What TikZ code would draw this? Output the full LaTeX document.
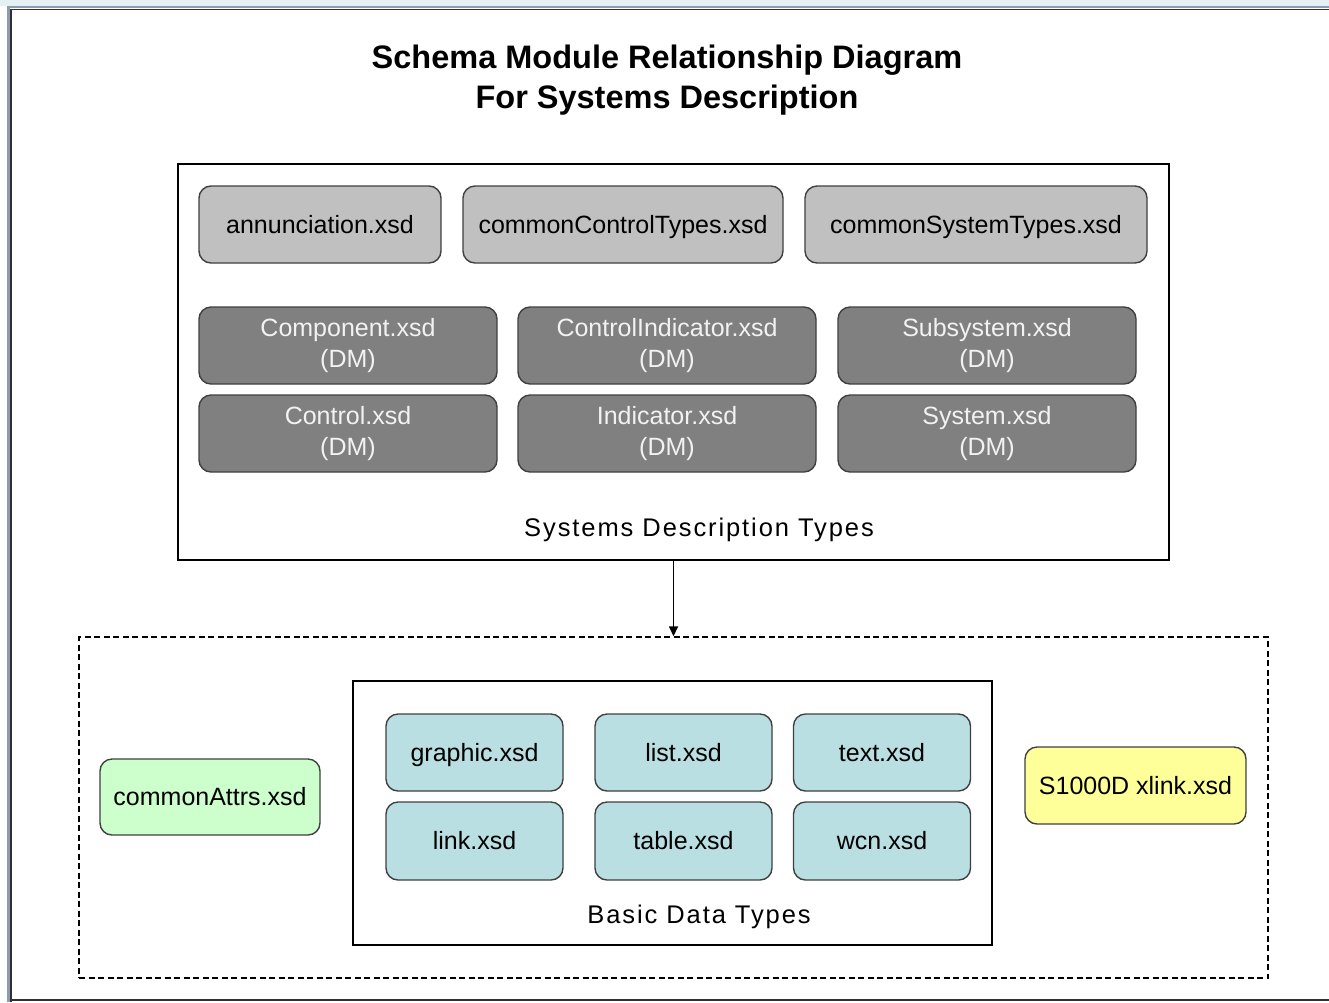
\documentclass[tikz,border=0pt]{standalone}
\usepackage{fontspec}
\setmainfont{Liberation Sans}
\newfontfamily\spacedfont[LetterSpace=7.5]{Liberation Sans}
\usetikzlibrary{arrows.meta}

\definecolor{framedark}{HTML}{303030}
\definecolor{frameblue}{HTML}{8C9AB4}
\definecolor{chrome}{HTML}{E4F0F4}
\definecolor{boxline}{HTML}{404040}
\definecolor{lightgray}{HTML}{C0C0C0}
\definecolor{darkgray}{HTML}{808080}
\definecolor{tealfill}{HTML}{B9DFE3}
\definecolor{greenfill}{HTML}{CCFFCC}
\definecolor{yellowfill}{HTML}{FFFF99}

\tikzset{
  module/.style={draw=boxline, line width=1.4pt, rounded corners=12pt,
    inner sep=0pt, align=center, font=\fontsize{25}{31}\selectfont},
  oneline/.style={text height=20pt, text depth=3pt},
  typebox/.style={module, oneline, fill=lightgray, text=black, minimum height=77pt},
  dmbox/.style={module, fill=darkgray, text=white!95!black,
    minimum width=298pt, minimum height=77pt},
  basicbox/.style={module, oneline, fill=tealfill, text=black, minimum width=177pt},
  container/.style={draw=black, line width=1.3pt, inner sep=0pt},
  groupbox/.style={draw=black, line width=1.4pt, dash pattern=on 6pt off 3.5pt, inner sep=0pt},
  grouplabel/.style={inner sep=0pt, font=\spacedfont\fontsize{25.5}{30}\selectfont},
  link/.style={draw=black, line width=1.4pt, -{Triangle[length=10pt,width=9pt]}}
}

\begin{document}
\begin{tikzpicture}[x=1pt, y=-1pt]
  \useasboundingbox (0,0) rectangle (1329,1002);
  \fill[white] (0,0) rectangle (1329,1002);

  % window frame
  \fill[chrome] (0,0) rectangle (1329,6);
  \draw[frameblue, line width=2.5pt] (8.5,1002) -- (8.5,7) -- (1329,7);
  \draw[framedark, line width=1.8pt] (11,1002) -- (11,9.5) -- (1329,9.5);
  \draw[framedark, line width=1.8pt] (11,1000) -- (1329,1000);

  % title
  \node[align=center, inner sep=0pt, font=\bfseries\fontsize{32.5}{40}\selectfont]
    (title) at (667,80) {Schema Module Relationship Diagram\\For Systems Description};

  % systems description types
  \node[container, minimum width=991pt, minimum height=396pt] (sdt) at (673.5,362) {};
  \node[typebox, minimum width=242pt] (ann) at (320,224.5) {annunciation.xsd};
  \node[typebox, minimum width=320pt] (cct) at (623,224.5) {commonControlTypes.xsd};
  \node[typebox, minimum width=342pt] (cst) at (976,224.5) {commonSystemTypes.xsd};

  \node[dmbox] (comp)    at (348,345.5) {Component.xsd\\(DM)};
  \node[dmbox] (ctrlind) at (667,345.5) {ControlIndicator.xsd\\(DM)};
  \node[dmbox] (subsys)  at (987,345.5) {Subsystem.xsd\\(DM)};
  \node[dmbox] (ctrl)    at (348,433.5) {Control.xsd\\(DM)};
  \node[dmbox] (ind)     at (667,433.5) {Indicator.xsd\\(DM)};
  \node[dmbox] (sys)     at (987,433.5) {System.xsd\\(DM)};

  \node[grouplabel] (sdtlabel) at (699,530) {Systems Description Types};

  % shared schemas
  \node[groupbox, minimum width=1189pt, minimum height=341pt] (shared) at (673.5,807.5) {};
  \node[container, minimum width=639pt, minimum height=264pt] (bdt) at (672.5,813) {};

  \node[basicbox, minimum height=77pt] (graphic) at (474.5,752.5) {graphic.xsd};
  \node[basicbox, minimum height=77pt] (list)    at (683.5,752.5) {list.xsd};
  \node[basicbox, minimum height=77pt] (text)    at (882,752.5)   {text.xsd};
  \node[basicbox, minimum height=78pt] (linkx)   at (474.5,841)   {link.xsd};
  \node[basicbox, minimum height=78pt] (table)   at (683.5,841)   {table.xsd};
  \node[basicbox, minimum height=78pt] (wcn)     at (882,841)     {wcn.xsd};

  \node[grouplabel] (bdtlabel) at (699,917) {Basic Data Types};

  \node[module, oneline, fill=greenfill, text=black, minimum width=220pt, minimum height=76pt]
    (attrs) at (210,797) {commonAttrs.xsd};
  \node[module, oneline, fill=yellowfill, text=black, minimum width=221pt, minimum height=77pt]
    (xlink) at (1135.5,785.5) {S1000D xlink.xsd};

  % dependency
  \draw[link] (sdt.south) -- (shared.north);
\end{tikzpicture}
\end{document}
